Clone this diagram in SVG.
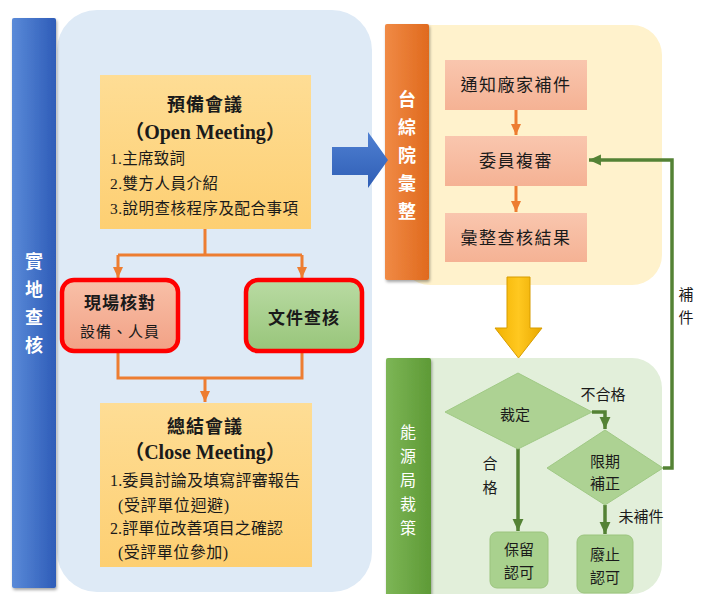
<svg xmlns="http://www.w3.org/2000/svg" width="702" height="594" viewBox="0 0 702 594">
<defs>
<linearGradient id="gBlueStrip" x1="0" y1="0" x2="1" y2="0"><stop offset="0" stop-color="#5A8AD8"/><stop offset="1" stop-color="#2E5CB8"/></linearGradient>
<linearGradient id="gOrangeStrip" x1="0" y1="0" x2="1" y2="0"><stop offset="0" stop-color="#F08A45"/><stop offset="1" stop-color="#E06A1E"/></linearGradient>
<linearGradient id="gGreenStrip" x1="0" y1="0" x2="1" y2="0"><stop offset="0" stop-color="#7DB656"/><stop offset="1" stop-color="#5E9A36"/></linearGradient>
<linearGradient id="gMeet" x1="0" y1="0" x2="0" y2="1"><stop offset="0" stop-color="#FEDD95"/><stop offset="1" stop-color="#FDCF72"/></linearGradient>
<linearGradient id="gRed" x1="0" y1="0" x2="0" y2="1"><stop offset="0" stop-color="#F8C0A8"/><stop offset="1" stop-color="#F2A185"/></linearGradient>
<linearGradient id="gGreenBox" x1="0" y1="0" x2="0" y2="1"><stop offset="0" stop-color="#B9DBA3"/><stop offset="1" stop-color="#98C57A"/></linearGradient>
<linearGradient id="gPeach" x1="0" y1="0" x2="0" y2="1"><stop offset="0" stop-color="#F9C6AE"/><stop offset="1" stop-color="#F5B294"/></linearGradient>
<linearGradient id="gYellowArrow" x1="0" y1="0" x2="1" y2="0"><stop offset="0" stop-color="#F2B200"/><stop offset="0.5" stop-color="#FFC820"/><stop offset="1" stop-color="#E9A800"/></linearGradient>
<linearGradient id="gBlueArrow" x1="0" y1="0" x2="0" y2="1"><stop offset="0" stop-color="#4F80D2"/><stop offset="1" stop-color="#2F5EB5"/></linearGradient>
<filter id="sh" x="-20%" y="-5%" width="150%" height="115%"><feDropShadow dx="1" dy="2" stdDeviation="1.5" flood-color="#000" flood-opacity="0.35"/></filter>
<marker id="aO" markerUnits="userSpaceOnUse" markerWidth="12" markerHeight="12" viewBox="0 0 12 12" refX="11" refY="6" orient="auto"><path d="M0,1 L11,6 L0,11 Z" fill="#ED7D31"/></marker>
<marker id="aG" markerUnits="userSpaceOnUse" markerWidth="13" markerHeight="13" viewBox="0 0 12 12" refX="11" refY="6" orient="auto"><path d="M0,1 L11,6 L0,11 Z" fill="#548235"/></marker>
<style>
.cjk{font-family:"Liberation Serif","Noto Sans CJK TC",serif;fill:#1a1a1a}
.strip{font-family:"Noto Sans CJK TC",sans-serif;fill:#ffffff;font-size:18px;font-weight:bold;text-anchor:middle}
.oc{fill:none;stroke:#ED7D31;stroke-width:3}
.gc{fill:none;stroke:#548235;stroke-width:3.5}
.t16{font-size:15.5px}
.c16{font-size:16px}
.peach{fill:url(#gPeach)}
.box{font-size:17px;letter-spacing:1.5px;text-anchor:middle}
.dia{fill:#ADD293;stroke:#A0C985;stroke-width:1}
.fin{fill:#A9D18E;stroke:#9CC47F;stroke-width:1}
.lbl{font-size:15px;text-anchor:middle}
</style>
</defs>

<!-- backgrounds -->
<g id="panel-left">
<rect x="57" y="10" width="315" height="582" rx="40" fill="#DEEAF6"/>
<rect x="12" y="18" width="44" height="570" rx="2" fill="url(#gBlueStrip)" filter="url(#sh)"/>
<text class="strip"><tspan x="34" y="268">實</tspan><tspan x="34" dy="28">地</tspan><tspan x="34" dy="28">查</tspan><tspan x="34" dy="28">核</tspan></text>
</g>
<g id="panel-right-top">
<rect x="400" y="25" width="262" height="260" rx="30" fill="#FFF2CC"/>
<rect x="385" y="24" width="44" height="256" rx="2" fill="url(#gOrangeStrip)" filter="url(#sh)"/>
<text class="strip"><tspan x="407" y="106">台</tspan><tspan x="407" dy="28">綜</tspan><tspan x="407" dy="28">院</tspan><tspan x="407" dy="28">彙</tspan><tspan x="407" dy="28">整</tspan></text>
</g>
<g id="panel-right-bottom">
<rect x="400" y="358" width="262" height="236" rx="30" fill="#E2EFDA"/>
<rect x="386" y="358" width="45" height="240" rx="2" fill="url(#gGreenStrip)" filter="url(#sh)"/>
<text class="strip" style="font-size:16px;font-weight:normal"><tspan x="408" y="438">能</tspan><tspan x="408" dy="24">源</tspan><tspan x="408" dy="24">局</tspan><tspan x="408" dy="24">裁</tspan><tspan x="408" dy="24">策</tspan></text>
</g>

<!-- big arrows -->
<g id="arrow-blue">
<path d="M332,147 L368,147 L368,132 L388,160 L368,188 L368,175 L332,175 Z" fill="url(#gBlueArrow)"/>
</g>
<g id="arrow-yellow">
<path d="M507,277 L530,277 L530,328 L542,328 L518.5,358 L495,328 L507,328 Z" fill="url(#gYellowArrow)" stroke="#D79C00" stroke-width="1"/>
</g>

<!-- connectors -->
<g id="connectors">
<path class="oc" d="M205,229 V255 M118,255 H302"/>
<path class="oc" d="M118,255 V278" marker-end="url(#aO)"/>
<path class="oc" d="M302,255 V278" marker-end="url(#aO)"/>
<path class="oc" d="M118,352 V378 H302 V352 M205,378 V402" marker-end="url(#aO)"/>
<path class="oc" d="M516,110 V135" marker-end="url(#aO)"/>
<path class="oc" d="M516,186 V212" marker-end="url(#aO)"/>
<path class="gc" d="M592,412 H605 V429" marker-end="url(#aG)"/>
<path class="gc" d="M518,448 V531" marker-end="url(#aG)"/>
<path class="gc" d="M605,505 V534" marker-end="url(#aG)"/>
<path class="gc" d="M663,468 H672 V160 H589" marker-end="url(#aG)"/>
<text class="cjk lbl" x="603" y="400">不合格</text>
<text class="cjk lbl"><tspan x="490" y="469">合</tspan><tspan x="490" dy="24">格</tspan></text>
<text class="cjk lbl" x="641" y="522">未補件</text>
<text class="cjk lbl"><tspan x="686" y="300">補</tspan><tspan x="686" dy="23">件</tspan></text>
</g>

<!-- nodes -->
<g id="open-meeting">
<rect x="100" y="75" width="211" height="154" fill="url(#gMeet)"/>
<text class="cjk" x="205" y="111" text-anchor="middle" font-size="18" font-weight="bold" letter-spacing="1">預備會議</text>
<text class="cjk" x="205" y="139" text-anchor="middle" font-size="20" font-weight="bold">（Open Meeting）</text>
<text class="cjk t16" x="110" y="164" textLength="75" lengthAdjust="spacing">1.主席致詞</text>
<text class="cjk t16" x="110" y="189" textLength="108" lengthAdjust="spacing">2.雙方人員介紹</text>
<text class="cjk t16" x="110" y="214" textLength="188" lengthAdjust="spacing">3.說明查核程序及配合事項</text>
</g>
<g id="onsite-check">
<rect x="62" y="280" width="116" height="71" rx="12" fill="url(#gRed)" stroke="#FF0000" stroke-width="4.5"/>
<text class="cjk" x="120" y="309" text-anchor="middle" font-size="17" font-weight="bold" letter-spacing="1">現場核對</text>
<text class="cjk" x="120" y="337" text-anchor="middle" font-size="15" letter-spacing="1">設備、人員</text>
</g>
<g id="doc-check">
<rect x="246" y="280" width="116" height="71" rx="12" fill="url(#gGreenBox)" stroke="#FF0000" stroke-width="4.5"/>
<text class="cjk" x="304" y="324" text-anchor="middle" font-size="17" font-weight="bold" letter-spacing="1">文件查核</text>
</g>
<g id="close-meeting">
<rect x="100" y="403" width="212" height="164" fill="url(#gMeet)"/>
<text class="cjk" x="205" y="433" text-anchor="middle" font-size="18" font-weight="bold" letter-spacing="1">總結會議</text>
<text class="cjk" x="205" y="459" text-anchor="middle" font-size="20" font-weight="bold">（Close Meeting）</text>
<text class="cjk c16" x="110" y="486" textLength="190" lengthAdjust="spacing">1.委員討論及填寫評審報告</text>
<text class="cjk c16" x="118" y="511" textLength="111" lengthAdjust="spacing">(受評單位迴避)</text>
<text class="cjk c16" x="110" y="534" textLength="173" lengthAdjust="spacing">2.評單位改善項目之確認</text>
<text class="cjk c16" x="118" y="558" textLength="110" lengthAdjust="spacing">(受評單位參加)</text>
</g>
<g id="notify">
<rect class="peach" x="445" y="60" width="142" height="50"/>
<text class="cjk box" x="516" y="91">通知廠家補件</text>
</g>
<g id="review">
<rect class="peach" x="445" y="136" width="142" height="50"/>
<text class="cjk box" x="516" y="167">委員複審</text>
</g>
<g id="summary">
<rect class="peach" x="445" y="213" width="142" height="49"/>
<text class="cjk box" x="516" y="244">彙整查核結果</text>
</g>
<g id="decide">
<path class="dia" d="M445,412 L518,373 L592,412 L518,449 Z"/>
<text class="cjk lbl" x="515" y="420">裁定</text>
</g>
<g id="correct">
<path class="dia" d="M547,468 L605,430 L663,468 L605,505 Z"/>
<text class="cjk lbl"><tspan x="605" y="467">限期</tspan><tspan x="605" dy="22">補正</tspan></text>
</g>
<g id="keep">
<rect class="fin" x="490" y="532" width="58" height="56" rx="7"/>
<text class="cjk lbl"><tspan x="519" y="555">保留</tspan><tspan x="519" dy="23">認可</tspan></text>
</g>
<g id="revoke">
<rect class="fin" x="577" y="535" width="56" height="58" rx="7"/>
<text class="cjk lbl"><tspan x="605" y="560">廢止</tspan><tspan x="605" dy="23">認可</tspan></text>
</g>
</svg>
